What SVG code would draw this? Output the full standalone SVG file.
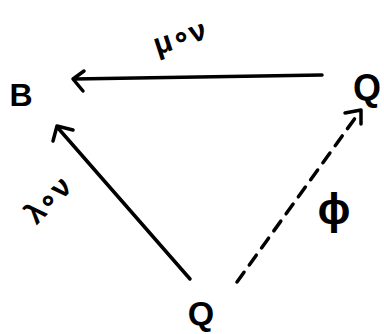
<svg xmlns="http://www.w3.org/2000/svg" width="384" height="334" viewBox="0 0 384 334">
<style>
.lbl{font-family:"Liberation Sans",Arial,sans-serif;font-weight:bold;fill:#000}
.edge{stroke:#000;stroke-width:3.5;fill:none;stroke-linecap:round}
.head{stroke:#000;stroke-width:3.5;fill:none;stroke-linecap:round;stroke-linejoin:round}
</style>
<rect width="384" height="334" fill="#fff"/>
<g id="node-B"><text class="lbl" x="21" y="106" font-size="32" text-anchor="middle">B</text></g>
<g id="node-Q-right"><text class="lbl" x="367" y="100" font-size="36" text-anchor="middle">Q</text></g>
<g id="node-Q-bottom"><text class="lbl" x="201" y="325" font-size="34" text-anchor="middle">Q</text></g>
<g id="connectors">
<g id="e-mu">
<path class="edge" d="M322,75 L74,79"/>
<path class="head" d="M84,71 L73,79 L83,91"/>
<text class="lbl" x="180" y="47" font-size="30" text-anchor="middle" transform="rotate(-18 180 38)">μ∘ν</text>
</g>
<g id="e-lambda">
<path class="edge" d="M190,279 L58,128"/>
<path class="head" d="M53,141 L57,126 L73,130"/>
<text class="lbl" x="48" y="210" font-size="30" text-anchor="middle" transform="rotate(-45 48 200)">λ∘ν</text>
</g>
<g id="e-phi">
<path class="edge" d="M237,282 L358,114" stroke-dasharray="12,9"/>
<path class="head" d="M345,113 L361,110 L361,124"/>
<text class="lbl" x="334" y="224" font-size="44" text-anchor="middle">ϕ</text>
</g>
</g>
</svg>
